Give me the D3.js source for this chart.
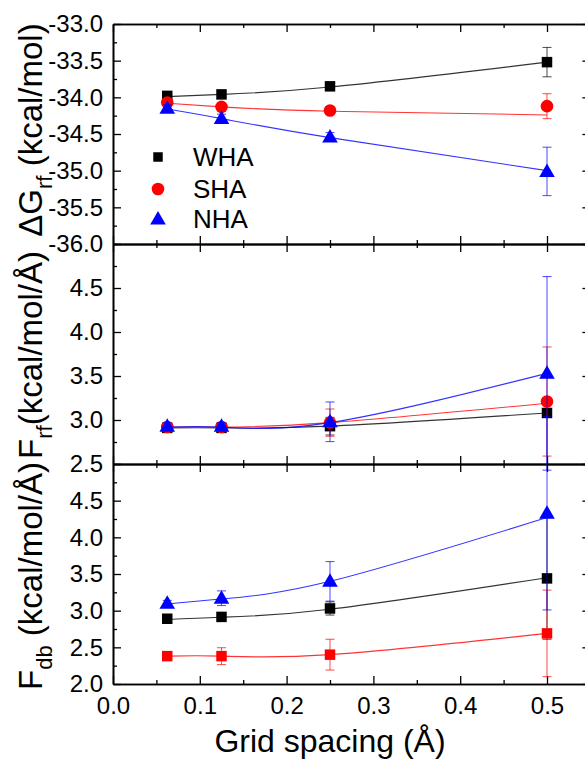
<!DOCTYPE html>
<html>
<head>
<meta charset="utf-8">
<script src="https://cdn.jsdelivr.net/npm/d3@7"></script>
<style>
  body { margin: 0; background: #fff; }
  svg { display: block; font-family: "Liberation Sans", Arial, sans-serif; }
</style>
</head>
<body>
<svg id="chart" width="585" height="760"></svg>
<script>
// Grid spacing (Å) used for every series
const spacing = [0.0625, 0.125, 0.25, 0.5];
const seriesNames = ["WHA", "SHA", "NHA"];
const seriesColors = ["#000000", "#ff0000", "#0000ff"];

// ΔG_rf (kcal/mol)
const dgWHA = [-33.98, -33.96, -33.85, -33.52];
const dgWHAErr = [0.02, 0.02, 0.03, 0.20];
const dgWHAFit = [-33.99, -33.96, -33.86, -33.52];
const dgSHA = [-34.07, -34.13, -34.18, -34.12];
const dgSHAErr = [0.03, 0.03, 0.05, 0.17];
const dgSHAFit = [-34.08, -34.13, -34.19, -34.24];
const dgNHA = [-34.15, -34.29, -34.54, -35.01];
const dgNHAErr = [0.05, 0.06, 0.06, 0.33];
const dgNHAFit = [-34.16, -34.29, -34.55, -35.00];

// F_rf (kcal/mol/Å)
const frWHA = [2.91, 2.91, 2.93, 3.08];
const frWHAErr = [0.02, 0.02, 0.10, 0.02];
const frWHAFit = [2.91, 2.91, 2.93, 3.08];
const frSHA = [2.92, 2.92, 2.97, 3.21];
const frSHAErr = [0.03, 0.03, 0.155, 0.62];
const frSHAFit = [2.92, 2.92, 2.97, 3.19];
const frNHA = [2.93, 2.93, 2.98, 3.53];
const frNHAErr = [0.04, 0.04, 0.225, 1.10];
const frNHAFit = [2.92, 2.92, 2.97, 3.53];

// F_db (kcal/mol/Å)
const fdWHA = [2.89, 2.915, 3.03, 3.44];
const fdWHAErr = [0.03, 0.03, 0.09, 0.83];
const fdWHAFit = [2.88, 2.91, 3.02, 3.45];
const fdSHA = [2.38, 2.38, 2.40, 2.69];
const fdSHAErr = [0.03, 0.115, 0.21, 0.59];
const fdSHAFit = [2.38, 2.38, 2.40, 2.69];
const fdNHA = [3.10, 3.17, 3.40, 4.33];
const fdNHAErr = [0.04, 0.10, 0.27, 1.32];
const fdNHAFit = [3.09, 3.16, 3.40, 4.27];

// Axis ticks
const xTicks = [0.0, 0.1, 0.2, 0.3, 0.4, 0.5];
const xMinorTicks = [0.05, 0.15, 0.25, 0.35, 0.45, 0.55];
const dgTicks = [-36.0, -35.5, -35.0, -34.5, -34.0, -33.5, -33.0];
const frTicks = [2.5, 3.0, 3.5, 4.0, 4.5];
const fdTicks = [2.0, 2.5, 3.0, 3.5, 4.0, 4.5];

const svg = d3.select("#chart");

const x = d3.scaleLinear().domain([0, 0.55]).range([113, 590.4]);

function build(values, errs, fits) {
  return seriesNames.map((name, i) => ({
    name,
    color: seriesColors[i],
    points: spacing.map((s, j) => ({ x: s, y: values[i][j], e: errs[i][j] })),
    fit: spacing.map((s, j) => ({ x: s, y: fits[i][j] }))
  }));
}

const panels = [
  {
    domain: [-36, -33], range: [244, 24], ticks: dgTicks, step: 0.25,
    shapes: [d3.symbolSquare, d3.symbolCircle, d3.symbolTriangle],
    series: build([dgWHA, dgSHA, dgNHA], [dgWHAErr, dgSHAErr, dgNHAErr], [dgWHAFit, dgSHAFit, dgNHAFit]),
    legend: true
  },
  {
    domain: [2.5, 5.0], range: [464, 244], ticks: frTicks, step: 0.25,
    shapes: [d3.symbolSquare, d3.symbolCircle, d3.symbolTriangle],
    series: build([frWHA, frSHA, frNHA], [frWHAErr, frSHAErr, frNHAErr], [frWHAFit, frSHAFit, frNHAFit])
  },
  {
    domain: [2.0, 5.0], range: [684, 464], ticks: fdTicks, step: 0.25,
    shapes: [d3.symbolSquare, d3.symbolSquare, d3.symbolTriangle],
    series: build([fdWHA, fdSHA, fdNHA], [fdWHAErr, fdSHAErr, fdNHAErr], [fdWHAFit, fdSHAFit, fdNHAFit]),
    xLabels: true
  }
];

function sizeFor(shape) {
  if (shape === d3.symbolSquare) return 110;
  if (shape === d3.symbolCircle) return 125;
  return 105;
}

function styleAxis(g) {
  g.select(".domain").attr("stroke", "#000").attr("stroke-width", 1.6);
  g.selectAll(".tick line").attr("stroke", "#000").attr("stroke-width", 1.3);
  g.selectAll(".tick text").attr("fill", "#000").attr("font-size", 24)
    .attr("font-family", "'Liberation Sans', Arial, sans-serif");
}

panels.forEach(p => {
  const y = d3.scaleLinear().domain(p.domain).range(p.range);
  const top = p.range[1], bottom = p.range[0];
  const left = x.range()[0], right = x.range()[1];
  const minors = d3.range(p.domain[0], p.domain[1] + 1e-9, p.step)
    .filter(v => Math.abs(v / 0.5 - Math.round(v / 0.5)) > 1e-6);
  const majors = d3.range(p.domain[0], p.domain[1] + 1e-9, 0.5);

  // minor ticks on all four sides
  svg.append("g").attr("transform", `translate(${left},0)`)
    .call(d3.axisLeft(y).tickValues(minors).tickSize(-4).tickSizeOuter(0).tickFormat(""))
    .call(styleAxis);
  svg.append("g").attr("transform", `translate(${right},0)`)
    .call(d3.axisRight(y).tickValues(minors).tickSize(-4).tickSizeOuter(0).tickFormat(""))
    .call(styleAxis);
  svg.append("g").attr("transform", `translate(0,${top})`)
    .call(d3.axisTop(x).tickValues(xMinorTicks).tickSize(-4).tickSizeOuter(0).tickFormat(""))
    .call(styleAxis);
  svg.append("g").attr("transform", `translate(0,${bottom})`)
    .call(d3.axisBottom(x).tickValues(xMinorTicks).tickSize(-4).tickSizeOuter(0).tickFormat(""))
    .call(styleAxis);

  // major ticks and labels
  svg.append("g").attr("transform", `translate(${left},0)`)
    .call(d3.axisLeft(y).tickValues(majors).tickSize(-8).tickSizeOuter(0).tickPadding(10)
      .tickFormat(d => p.ticks.some(t => Math.abs(t - d) < 1e-9) ? d.toFixed(1) : ""))
    .call(styleAxis);
  svg.append("g").attr("transform", `translate(${right},0)`)
    .call(d3.axisRight(y).tickValues(majors).tickSize(-8).tickSizeOuter(0).tickFormat(""))
    .call(styleAxis);
  svg.append("g").attr("transform", `translate(0,${top})`)
    .call(d3.axisTop(x).tickValues(xTicks).tickSize(-8).tickSizeOuter(0).tickFormat(""))
    .call(styleAxis);
  svg.append("g").attr("transform", `translate(0,${bottom})`)
    .call(d3.axisBottom(x).tickValues(xTicks).tickSize(-8).tickSizeOuter(0).tickPadding(13)
      .tickFormat(p.xLabels ? (d => d.toFixed(1)) : ""))
    .call(styleAxis);

  const line = d3.line().x(d => x(d.x)).y(d => y(d.y)).curve(d3.curveNatural);

  p.series.forEach((s, i) => {
    const g = svg.append("g");
    g.append("path").datum(s.fit)
      .attr("d", line).attr("fill", "none")
      .attr("stroke", s.color).attr("stroke-width", 1.1).attr("stroke-opacity", 0.8);

    const eb = g.append("g").attr("stroke", s.color).attr("stroke-width", 1.1).attr("stroke-opacity", 0.65);
    s.points.forEach(pt => {
      const cx = x(pt.x), y1 = y(pt.y - pt.e), y2 = y(pt.y + pt.e);
      eb.append("line").attr("x1", cx).attr("x2", cx).attr("y1", y1).attr("y2", y2);
      eb.append("line").attr("x1", cx - 4.5).attr("x2", cx + 4.5).attr("y1", y1).attr("y2", y1);
      eb.append("line").attr("x1", cx - 4.5).attr("x2", cx + 4.5).attr("y1", y2).attr("y2", y2);
    });

    const shape = p.shapes[i];
    g.selectAll("path.mark").data(s.points).join("path")
      .attr("class", "mark")
      .attr("transform", d => `translate(${x(d.x)},${y(d.y) + (shape === d3.symbolTriangle ? 1 : 0)})`)
      .attr("d", d3.symbol(shape, sizeFor(shape)))
      .attr("fill", s.color);
  });

  if (p.legend) {
    const lg = svg.append("g");
    const legendY = [157, 189, 219];
    p.series.forEach((s, i) => {
      const shape = p.shapes[i];
      lg.append("path")
        .attr("transform", `translate(158,${legendY[i] + (shape === d3.symbolTriangle ? 1 : 0)})`)
        .attr("d", d3.symbol(shape, shape === d3.symbolSquare ? 90 : sizeFor(shape)))
        .attr("fill", s.color);
      lg.append("text").attr("x", 193).attr("y", legendY[i]).attr("dy", "0.36em")
        .attr("font-size", 26).attr("fill", "#000").text(s.name);
    });
  }
});

// axis titles
svg.append("text")
  .attr("x", 330).attr("y", 752).attr("text-anchor", "middle")
  .attr("font-size", 32).attr("fill", "#000")
  .text("Grid spacing (Å)");

function yTitle(cy, main, sub, rest) {
  const t = svg.append("text")
    .attr("transform", `translate(42,${cy}) rotate(-90)`)
    .attr("text-anchor", "middle").attr("font-size", 33).attr("fill", "#000");
  t.append("tspan").text(main);
  t.append("tspan").attr("font-size", 22).attr("dy", "0.45em").text(sub);
  t.append("tspan").attr("dy", "-0.3em").text(rest);
}
yTitle(130, "ΔG", "rf", " (kcal/mol)");
yTitle(355, "F", "rf", "(kcal/mol/Å)");
yTitle(576, "F", "db", " (kcal/mol/Å)");
</script>
</body>
</html>
